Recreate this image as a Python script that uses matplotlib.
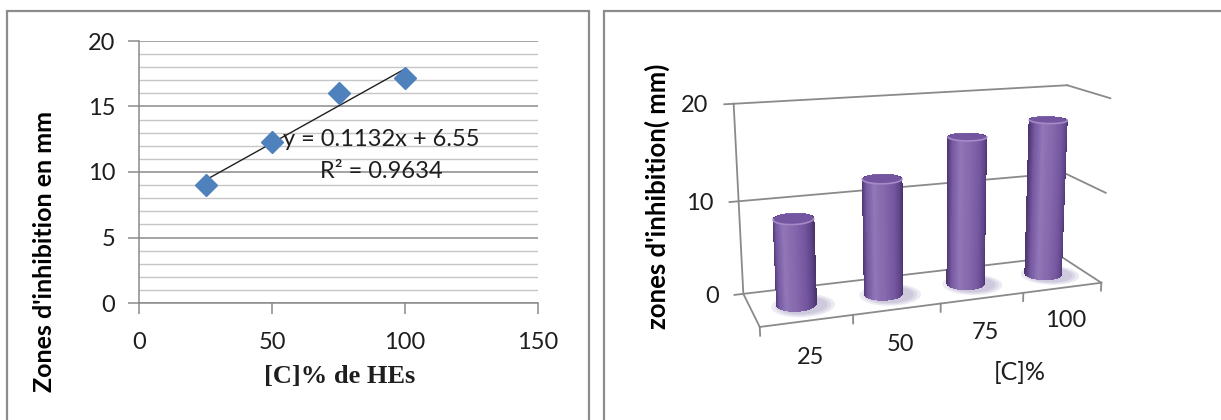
import numpy as np
import matplotlib.pyplot as plt
from matplotlib.patches import Rectangle
from matplotlib.colors import LinearSegmentedColormap
from mpl_toolkits.mplot3d.art3d import Poly3DCollection

# data: inhibition zone (mm) vs essential-oil concentration (%)
conc = [25, 50, 75, 100]
zones = [9.0, 12.3, 16.0, 17.2]
cat_labels = ['25', '50', '75', '100']
x_ticks = [0, 50, 100, 150]
y_ticks = [0, 5, 10, 15, 20]
wall_levels = [0, 10, 20]

SANS = 'Lato'
SERIF = 'Liberation Serif'
GRID = '#8a8a8a'
MINOR = '#c6c6c6'
TXT = '#1e1e1e'
BLUE = '#4F81BD'

W, H = 1221, 420
fig = plt.figure(figsize=(W / 100, H / 100), dpi=100)

# panel frames
for x0, w in [(7, 582), (604, 660)]:
    fig.patches.append(Rectangle((x0 / W, -0.1), w / W, 1.1 - 11 / H,
                                 transform=fig.transFigure, fill=False,
                                 ec='#8c8c8c', lw=1.6))

# ---------------- left: scatter + linear trend ----------------
ax = fig.add_axes([139 / W, 117 / H, 399 / W, 262 / H])
ax.set_xlim(0, 150)
ax.set_ylim(0, 20)
ax.set_xticks(x_ticks)
ax.set_yticks(y_ticks)
ax.set_yticks(np.arange(0, 21, 1), minor=True)
ax.set_axisbelow(True)
ax.grid(True, axis='y', which='minor', color=MINOR, lw=1.0)
ax.grid(True, axis='y', which='major', color=GRID, lw=1.1)
ax.tick_params(axis='y', which='minor', length=0)
ax.tick_params(which='major', length=8, width=1.1, color=GRID,
               labelsize=17, labelcolor=TXT)
ax.tick_params(axis='y', pad=9)
ax.tick_params(axis='x', pad=13)
for lab in ax.get_xticklabels() + ax.get_yticklabels():
    lab.set_fontfamily(SANS)
for s in ['top', 'right']:
    ax.spines[s].set_visible(False)
for s in ['left', 'bottom']:
    ax.spines[s].set_color(GRID)
    ax.spines[s].set_linewidth(1.1)

coef = np.polyfit(conc, zones, 1)
fit = np.polyval(coef, conc)
r2 = 1 - np.sum((np.array(zones) - fit) ** 2) / np.sum((np.array(zones) - np.mean(zones)) ** 2)
xs = np.array([conc[0], conc[-1]])
ax.plot(xs, np.polyval(coef, xs), color='#1f1f1f', lw=1.0, zorder=3)
ax.plot(conc, zones, 'D', color=BLUE, ms=11, mec=BLUE, zorder=4)
ax.text(54, 12.5, f'y = {coef[0]:.4f}x + {coef[1]:.2f}', fontsize=17,
        family=SANS, color=TXT, va='center', zorder=5)
ax.text(68, 10.0, f'R² = {r2:.4f}', fontsize=17, family=SANS, color=TXT,
        va='center', zorder=5)

ax.set_xlabel('[C]% de HEs', family=SERIF, fontweight='bold', fontsize=19,
              color=TXT, va='center')
ax.xaxis.set_label_coords(0.504, -0.282)
ax.set_ylabel("Zones d'inhibition en mm", family=SANS, fontweight='bold',
              fontsize=18, color='black', va='center')
ax.yaxis.set_label_coords(-0.236, 0.198)

# ---------------- right: 3-D cylinders ----------------
ax3 = fig.add_axes([0.5518, 0.0369, 0.4028, 0.9622], projection='3d',
                   computed_zorder=False)
ax3.set_facecolor('none')
AZ, EL = -109.5, 15
ax3.set_proj_type('persp', focal_length=0.45)
ax3.view_init(elev=EL, azim=AZ)
n = len(conc)
box = (3.5, 0.9, 1.9)
ax3.set_box_aspect(box)
ax3.set_xlim(0, n)
ax3.set_ylim(0, 1)
ax3.set_zlim(0, 20)
ax3.set_xticks([])
ax3.set_yticks([])
ax3.set_zticks([])
ax3.set_axis_off()

wall = dict(color=GRID, lw=1.3, zorder=1)
for lv in wall_levels:
    ax3.plot([0, n], [1, 1], [lv, lv], **wall)      # back wall
    ax3.plot([n, n], [1, 0], [lv, lv], **wall)      # side wall
    ax3.plot([-0.1, 0], [1, 1], [lv, lv], **wall)   # tick
    ax3.text(-0.27, 1, lv, str(lv), ha='right', va='center', fontsize=17,
             family=SANS, color=TXT)
ax3.plot([0, 0], [1, 1], [0, 20], **wall)
ax3.plot([0, n], [0, 0], [0, 0], **wall)
ax3.plot([0, 0], [0, 1], [0, 0], **wall)
for i in range(n + 1):
    ax3.plot([i, i], [0, 0], [0, -0.9], **wall)
for i, lab in enumerate(cat_labels):
    ax3.text(i + 0.5, -0.1, -3.4, lab, ha='center', va='center',
             fontsize=17, family=SANS, color=TXT)

body_cmap = LinearSegmentedColormap.from_list('cyl', [
    (0.0, '#4d3570'), (0.12, '#7558a0'), (0.32, '#9176b8'),
    (0.55, '#8668ad'), (0.8, '#7456a0'), (0.94, '#5e4486'), (1.0, '#4a336d')])

az = np.deg2rad(AZ)
right_vec = np.array([-np.sin(az), np.cos(az)])
cam_vec = np.array([np.cos(az), np.sin(az)])
sx, sy = box[0] / n, box[1] / 1.0     # box units per data unit
R = 0.19                              # cylinder radius in box units
nt = 145
th = np.linspace(0, 2 * np.pi, nt)
for i, h in enumerate(zones):
    cx, cy = i + 0.5, 0.5
    # soft shadow on the floor
    for sc in [1.6, 1.4, 1.22]:
        ex = cx + 0.06 + sc * R / sx * np.cos(th)
        ey = cy - 0.06 + sc * R / sy * np.sin(th)
        sh = Poly3DCollection([list(zip(ex, ey, np.zeros_like(th)))],
                              facecolor='#7f6fa3', edgecolor='none',
                              alpha=0.14, zorder=2)
        ax3.add_collection3d(sh)
    X = np.vstack([cx + R / sx * np.cos(th)] * 2)
    Y = np.vstack([cy + R / sy * np.sin(th)] * 2)
    Z = np.vstack([np.zeros_like(th), np.full_like(th, h)])
    tm = np.append((th[:-1] + th[1:]) / 2, th[-1])
    s = np.cos(tm) * right_vec[0] + np.sin(tm) * right_vec[1]
    cols = body_cmap((s + 1) / 2)
    fc = np.stack([cols, cols])
    ax3.plot_surface(X, Y, Z, facecolors=fc, shade=False,
                     rcount=2, ccount=nt, linewidth=0,
                     antialiased=False, zorder=3 + i)
    cap = Poly3DCollection([list(zip(X[1], Y[1], Z[1]))],
                           facecolor='#7355a0', edgecolor='none',
                           zorder=10 + i)
    ax3.add_collection3d(cap)
    front = (np.cos(th) * cam_vec[0] + np.sin(th) * cam_vec[1]) > 0
    ax3.plot(X[1][front], Y[1][front], Z[1][front], color='#a48bc8',
             lw=1.2, zorder=15 + i)

fig.text(1020 / W, 1 - 373 / H, '[C]%', ha='center', va='center',
         fontsize=18, family=SANS, color=TXT)
fig.text(657 / W, 1 - 196 / H, "zones d'inhibition( mm)", rotation=90,
         ha='center', va='center', fontsize=18.5, family=SANS,
         fontweight='bold', color='black')

fig.savefig('out.png', dpi=100)
